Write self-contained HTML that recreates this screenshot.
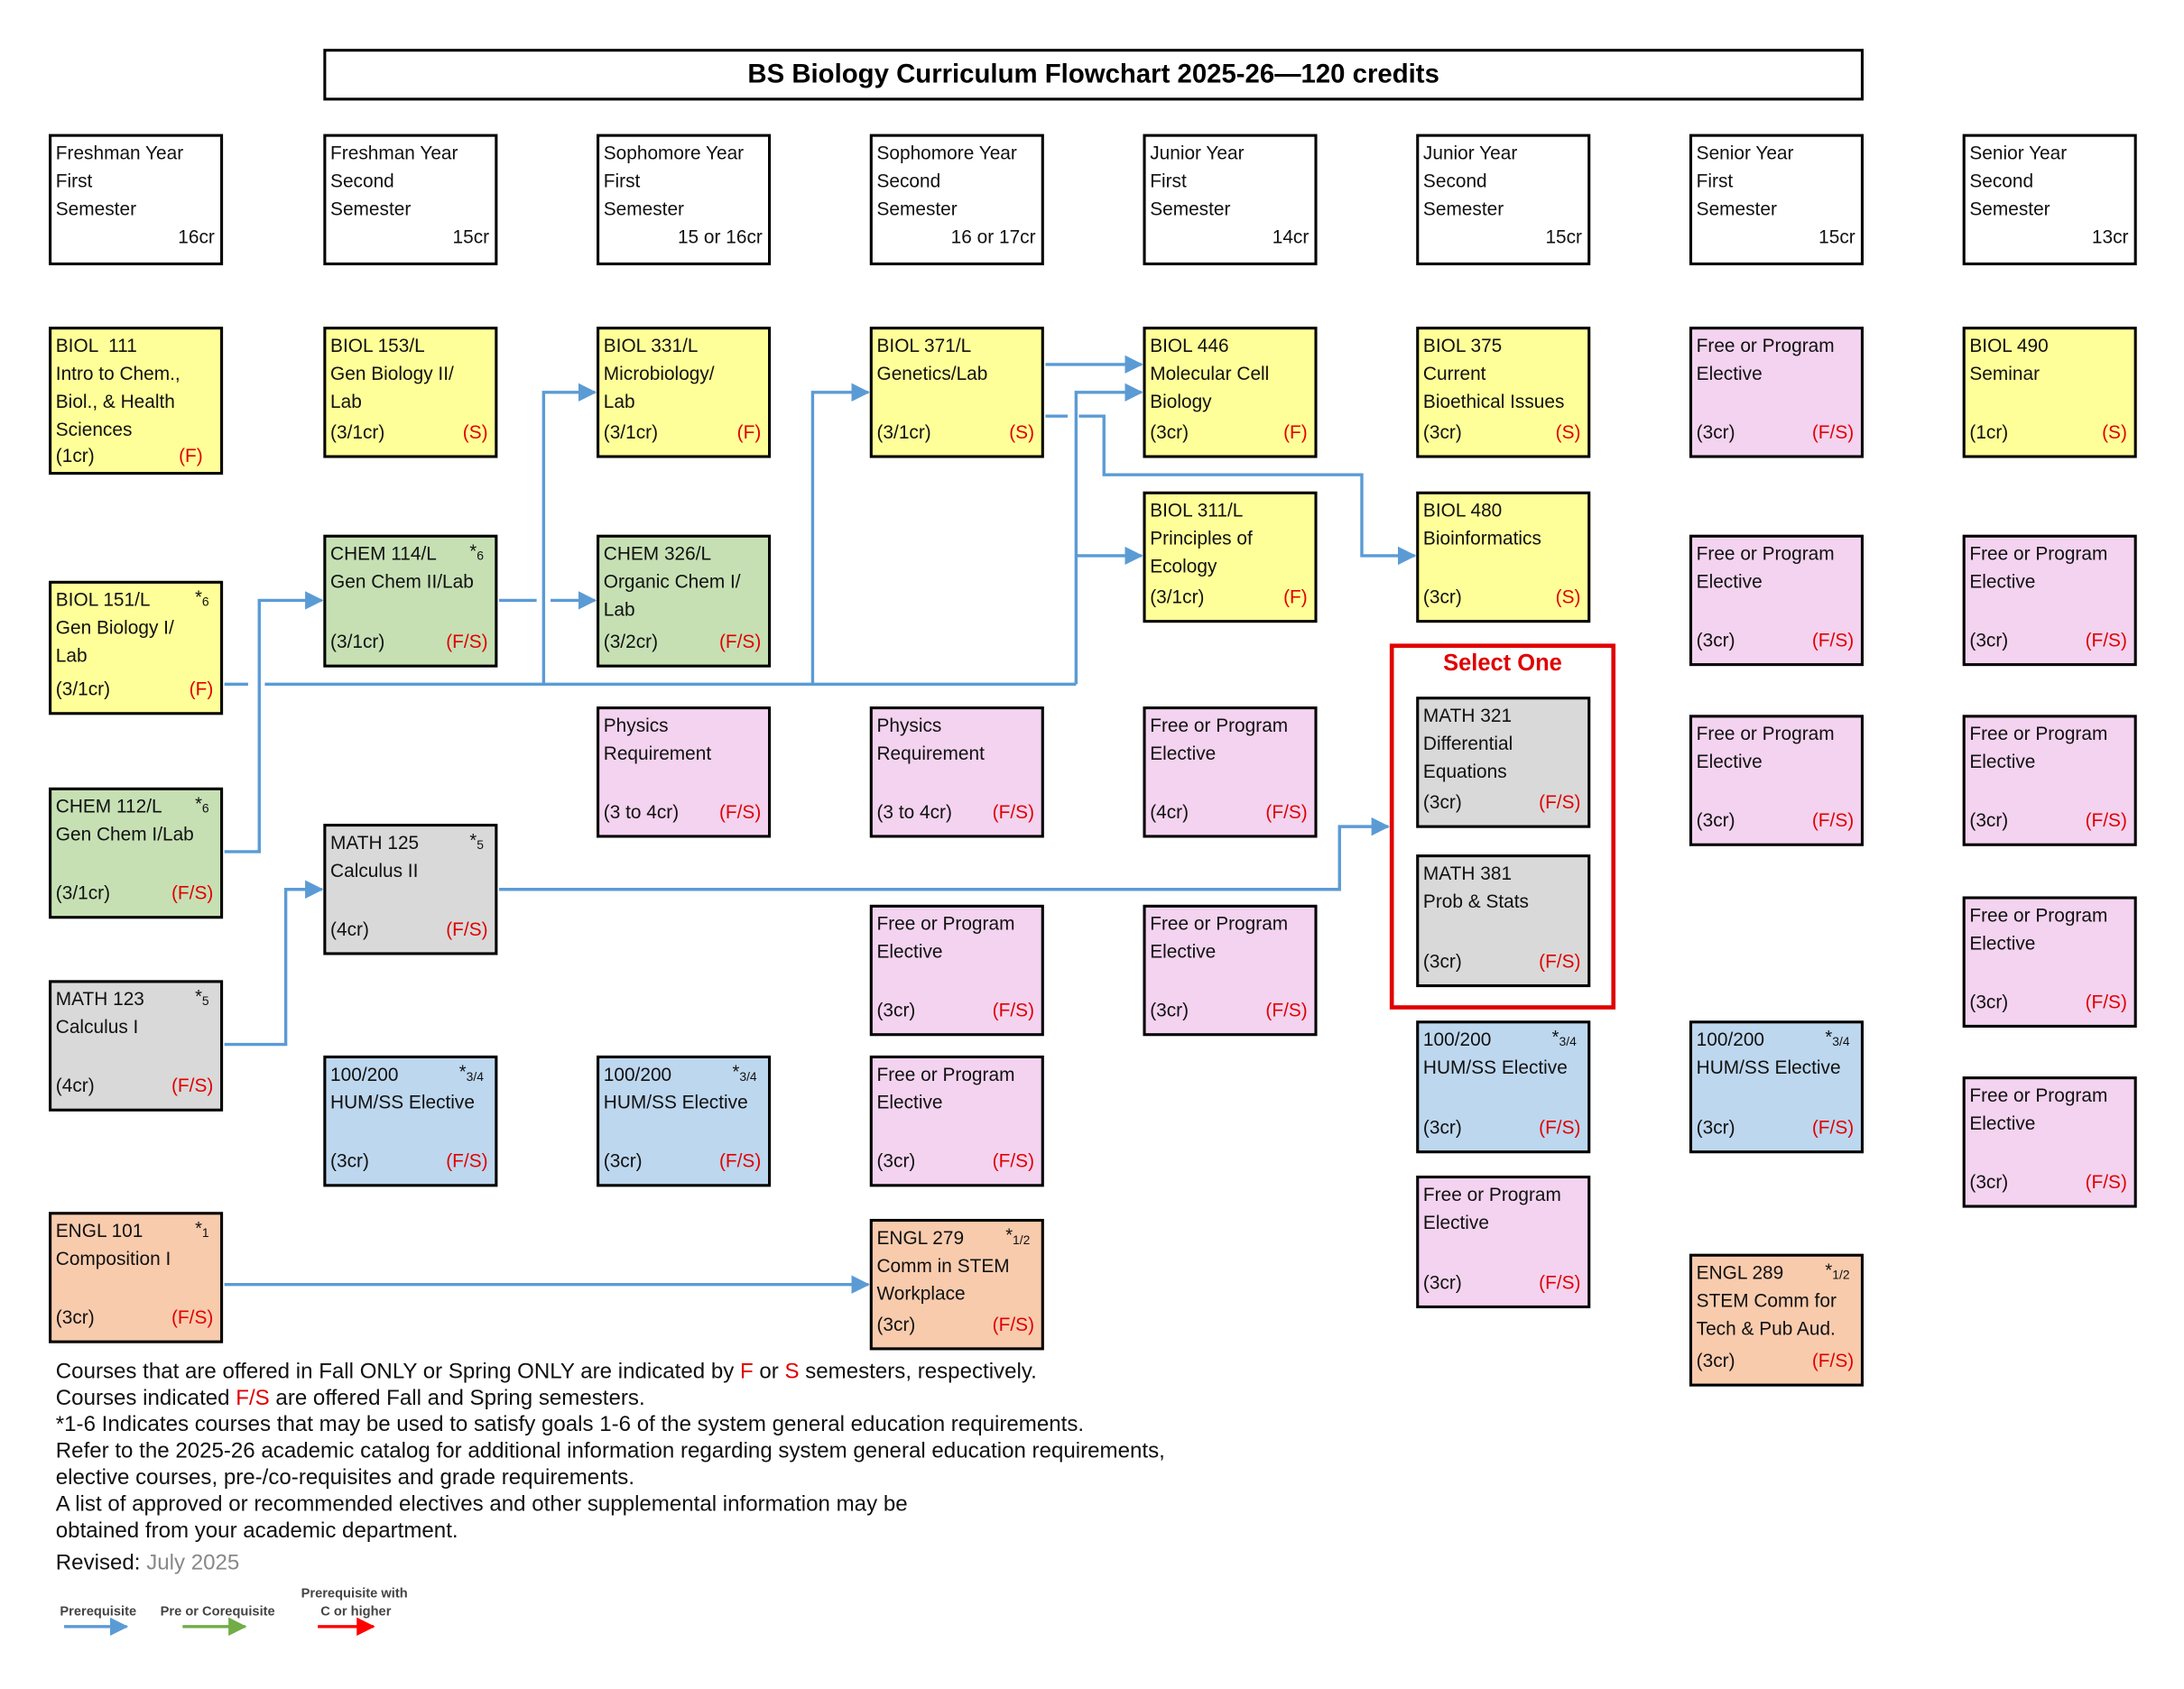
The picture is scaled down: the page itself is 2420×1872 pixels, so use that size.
<!DOCTYPE html>
<html><head><meta charset="utf-8"><style>
*{margin:0;padding:0;box-sizing:border-box}
body{width:2420px;height:1870px;background:#fff;overflow:hidden}
#w{position:absolute;left:0;top:0;width:1570px;height:1210px;transform:scale(1.5445,1.5475);transform-origin:0 0;font-family:"Liberation Sans",sans-serif}
.b{position:absolute;width:125px;border:2px solid #000;font-size:13.5px;color:#111}
.t{padding:2px 3px;line-height:20px;white-space:nowrap}
.c{position:absolute;left:3px;right:5px;bottom:6px;line-height:20px;display:flex;justify-content:space-between}
.r{color:#e00000}
.s{position:absolute;right:8px;top:2px;font-size:13px}
.s sub{font-size:9px;vertical-align:-2px}
.y{background:#ffff99}.g{background:#c6e0b4}.k{background:#d9d9d9}.p{background:#f3d3ef}.u{background:#bdd7ee}.o{background:#f8cbad}.h{background:#fff;height:94px;top:96px}
.hc{position:absolute;right:4px;bottom:8px;line-height:20px}
svg{position:absolute;left:0;top:0}
.f{position:absolute;left:40px;font-size:15.6px;line-height:19px;color:#111}
</style></head><body><div id="w">
<div style="position:absolute;left:232px;top:35px;width:1105px;height:37px;border:2px solid #000;text-align:center;font-weight:bold;font-size:19px;line-height:33px">BS Biology Curriculum Flowchart 2025-26—120 credits</div>

<div class="b h" style="left:35px"><div class="t">Freshman Year<br>First<br>Semester</div><div class="hc">16cr</div></div>
<div class="b h" style="left:232px"><div class="t">Freshman Year<br>Second<br>Semester</div><div class="hc">15cr</div></div>
<div class="b h" style="left:428px"><div class="t">Sophomore Year<br>First<br>Semester</div><div class="hc">15 or 16cr</div></div>
<div class="b h" style="left:624px"><div class="t">Sophomore Year<br>Second<br>Semester</div><div class="hc">16 or 17cr</div></div>
<div class="b h" style="left:820px"><div class="t">Junior Year<br>First<br>Semester</div><div class="hc">14cr</div></div>
<div class="b h" style="left:1016px"><div class="t">Junior Year<br>Second<br>Semester</div><div class="hc">15cr</div></div>
<div class="b h" style="left:1212px"><div class="t">Senior Year<br>First<br>Semester</div><div class="hc">15cr</div></div>
<div class="b h" style="left:1408px"><div class="t">Senior Year<br>Second<br>Semester</div><div class="hc">13cr</div></div>

<!-- col1 -->
<div class="b y" style="left:35px;top:234px;height:106px"><div class="t">BIOL &nbsp;111<br>Intro to Chem.,<br>Biol., &amp; Health<br>Sciences</div><div class="c" style="bottom:1px"><span>(1cr)</span><span class="r">(F)&nbsp;&nbsp;</span></div></div>
<div class="b y" style="left:35px;top:416px;height:96px"><div class="t">BIOL 151/L<br>Gen Biology I/<br>Lab</div><span class="s">*<sub>6</sub></span><div class="c"><span>(3/1cr)</span><span class="r">(F)</span></div></div>
<div class="b g" style="left:35px;top:564px;height:94px"><div class="t">CHEM 112/L<br>Gen Chem I/Lab</div><span class="s">*<sub>6</sub></span><div class="c"><span>(3/1cr)</span><span class="r">(F/S)</span></div></div>
<div class="b k" style="left:35px;top:702px;height:94px"><div class="t">MATH 123<br>Calculus I</div><span class="s">*<sub>5</sub></span><div class="c"><span>(4cr)</span><span class="r">(F/S)</span></div></div>
<div class="b o" style="left:35px;top:868px;height:94px"><div class="t">ENGL 101<br>Composition I</div><span class="s">*<sub>1</sub></span><div class="c"><span>(3cr)</span><span class="r">(F/S)</span></div></div>
<!-- col2 -->
<div class="b y" style="left:232px;top:234px;height:94px"><div class="t">BIOL 153/L<br>Gen Biology II/<br>Lab</div><div class="c"><span>(3/1cr)</span><span class="r">(S)</span></div></div>
<div class="b g" style="left:232px;top:383px;height:95px"><div class="t">CHEM 114/L<br>Gen Chem II/Lab</div><span class="s">*<sub>6</sub></span><div class="c"><span>(3/1cr)</span><span class="r">(F/S)</span></div></div>
<div class="b k" style="left:232px;top:590px;height:94px"><div class="t">MATH 125<br>Calculus II</div><span class="s">*<sub>5</sub></span><div class="c"><span>(4cr)</span><span class="r">(F/S)</span></div></div>
<div class="b u" style="left:232px;top:756px;height:94px"><div class="t">100/200<br>HUM/SS Elective</div><span class="s">*<sub>3/4</sub></span><div class="c"><span>(3cr)</span><span class="r">(F/S)</span></div></div>
<!-- col3 -->
<div class="b y" style="left:428px;top:234px;height:94px"><div class="t">BIOL 331/L<br>Microbiology/<br>Lab</div><div class="c"><span>(3/1cr)</span><span class="r">(F)</span></div></div>
<div class="b g" style="left:428px;top:383px;height:95px"><div class="t">CHEM 326/L<br>Organic Chem I/<br>Lab</div><div class="c"><span>(3/2cr)</span><span class="r">(F/S)</span></div></div>
<div class="b p" style="left:428px;top:506px;height:94px"><div class="t">Physics<br>Requirement</div><div class="c"><span>(3 to 4cr)</span><span class="r">(F/S)</span></div></div>
<div class="b u" style="left:428px;top:756px;height:94px"><div class="t">100/200<br>HUM/SS Elective</div><span class="s">*<sub>3/4</sub></span><div class="c"><span>(3cr)</span><span class="r">(F/S)</span></div></div>
<!-- col4 -->
<div class="b y" style="left:624px;top:234px;height:94px"><div class="t">BIOL 371/L<br>Genetics/Lab</div><div class="c"><span>(3/1cr)</span><span class="r">(S)</span></div></div>
<div class="b p" style="left:624px;top:506px;height:94px"><div class="t">Physics<br>Requirement</div><div class="c"><span>(3 to 4cr)</span><span class="r">(F/S)</span></div></div>
<div class="b p" style="left:624px;top:648px;height:94px"><div class="t">Free or Program<br>Elective</div><div class="c"><span>(3cr)</span><span class="r">(F/S)</span></div></div>
<div class="b p" style="left:624px;top:756px;height:94px"><div class="t">Free or Program<br>Elective</div><div class="c"><span>(3cr)</span><span class="r">(F/S)</span></div></div>
<div class="b o" style="left:624px;top:873px;height:94px"><div class="t">ENGL 279<br>Comm in STEM<br>Workplace</div><span class="s">*<sub>1/2</sub></span><div class="c"><span>(3cr)</span><span class="r">(F/S)</span></div></div>
<!-- col5 -->
<div class="b y" style="left:820px;top:234px;height:94px"><div class="t">BIOL 446<br>Molecular Cell<br>Biology</div><div class="c"><span>(3cr)</span><span class="r">(F)</span></div></div>
<div class="b y" style="left:820px;top:352px;height:94px"><div class="t">BIOL 311/L<br>Principles of<br>Ecology</div><div class="c"><span>(3/1cr)</span><span class="r">(F)</span></div></div>
<div class="b p" style="left:820px;top:506px;height:94px"><div class="t">Free or Program<br>Elective</div><div class="c"><span>(4cr)</span><span class="r">(F/S)</span></div></div>
<div class="b p" style="left:820px;top:648px;height:94px"><div class="t">Free or Program<br>Elective</div><div class="c"><span>(3cr)</span><span class="r">(F/S)</span></div></div>
<!-- col6 -->
<div class="b y" style="left:1016px;top:234px;height:94px"><div class="t">BIOL 375<br>Current<br>Bioethical Issues</div><div class="c"><span>(3cr)</span><span class="r">(S)</span></div></div>
<div class="b y" style="left:1016px;top:352px;height:94px"><div class="t">BIOL 480<br>Bioinformatics</div><div class="c"><span>(3cr)</span><span class="r">(S)</span></div></div>
<div style="position:absolute;left:997px;top:461px;width:162px;height:262px;border:3px solid #e00000"></div>
<div style="position:absolute;left:997px;top:466px;width:162px;text-align:center;color:#e00000;font-weight:bold;font-size:16.5px">Select One</div>
<div class="b k" style="left:1016px;top:499px;height:94px"><div class="t">MATH 321<br>Differential<br>Equations</div><div class="c"><span>(3cr)</span><span class="r">(F/S)</span></div></div>
<div class="b k" style="left:1016px;top:612px;height:95px"><div class="t">MATH 381<br>Prob &amp; Stats</div><div class="c"><span>(3cr)</span><span class="r">(F/S)</span></div></div>
<div class="b u" style="left:1016px;top:731px;height:95px"><div class="t">100/200<br>HUM/SS Elective</div><span class="s">*<sub>3/4</sub></span><div class="c"><span>(3cr)</span><span class="r">(F/S)</span></div></div>
<div class="b p" style="left:1016px;top:842px;height:95px"><div class="t">Free or Program<br>Elective</div><div class="c"><span>(3cr)</span><span class="r">(F/S)</span></div></div>
<!-- col7 -->
<div class="b p" style="left:1212px;top:234px;height:94px"><div class="t">Free or Program<br>Elective</div><div class="c"><span>(3cr)</span><span class="r">(F/S)</span></div></div>
<div class="b p" style="left:1212px;top:383px;height:94px"><div class="t">Free or Program<br>Elective</div><div class="c"><span>(3cr)</span><span class="r">(F/S)</span></div></div>
<div class="b p" style="left:1212px;top:512px;height:94px"><div class="t">Free or Program<br>Elective</div><div class="c"><span>(3cr)</span><span class="r">(F/S)</span></div></div>
<div class="b u" style="left:1212px;top:731px;height:95px"><div class="t">100/200<br>HUM/SS Elective</div><span class="s">*<sub>3/4</sub></span><div class="c"><span>(3cr)</span><span class="r">(F/S)</span></div></div>
<div class="b o" style="left:1212px;top:898px;height:95px"><div class="t">ENGL 289<br>STEM Comm for<br>Tech &amp; Pub Aud.</div><span class="s">*<sub>1/2</sub></span><div class="c"><span>(3cr)</span><span class="r">(F/S)</span></div></div>
<!-- col8 -->
<div class="b y" style="left:1408px;top:234px;height:94px"><div class="t">BIOL 490<br>Seminar</div><div class="c"><span>(1cr)</span><span class="r">(S)</span></div></div>
<div class="b p" style="left:1408px;top:383px;height:94px"><div class="t">Free or Program<br>Elective</div><div class="c"><span>(3cr)</span><span class="r">(F/S)</span></div></div>
<div class="b p" style="left:1408px;top:512px;height:94px"><div class="t">Free or Program<br>Elective</div><div class="c"><span>(3cr)</span><span class="r">(F/S)</span></div></div>
<div class="b p" style="left:1408px;top:642px;height:94px"><div class="t">Free or Program<br>Elective</div><div class="c"><span>(3cr)</span><span class="r">(F/S)</span></div></div>
<div class="b p" style="left:1408px;top:771px;height:94px"><div class="t">Free or Program<br>Elective</div><div class="c"><span>(3cr)</span><span class="r">(F/S)</span></div></div>

<svg width="1570" height="1210" viewBox="0 0 1570 1210">
<defs>
<marker id="a" markerWidth="6" markerHeight="6" refX="5.5" refY="3" orient="auto" markerUnits="strokeWidth"><path d="M0,0 L6,3 L0,6 z" fill="#5b9bd5"/></marker>
<marker id="ag" markerWidth="6" markerHeight="6" refX="5.5" refY="3" orient="auto" markerUnits="strokeWidth"><path d="M0,0 L6,3 L0,6 z" fill="#70ad47"/></marker>
<marker id="ar" markerWidth="6" markerHeight="6" refX="5.5" refY="3" orient="auto" markerUnits="strokeWidth"><path d="M0,0 L6,3 L0,6 z" fill="#ff0000"/></marker>
</defs>
<g fill="none" stroke="#5b9bd5" stroke-width="2.2">
<path d="M161,490 H178 M190,490 H772"/>
<path d="M390,490 V281 H427" marker-end="url(#a)"/>
<path d="M583,490 V281 H623" marker-end="url(#a)"/>
<path d="M772,490 V281 H819" marker-end="url(#a)"/>
<path d="M772,398 H819" marker-end="url(#a)"/>
<path d="M750,261 H819" marker-end="url(#a)"/>
<path d="M750,298 H766 M774,298 H792 V340 H977 V398 H1015" marker-end="url(#a)"/>
<path d="M161,610 H186 V430 H231" marker-end="url(#a)"/>
<path d="M358,430 H385 M395,430 H427" marker-end="url(#a)"/>
<path d="M161,748 H205 V637 H231" marker-end="url(#a)"/>
<path d="M358,637 H961 V592 H996" marker-end="url(#a)"/>
<path d="M161,920 H623" marker-end="url(#a)"/>
<path d="M46,1165 H91" marker-end="url(#a)"/>
<path d="M131,1165 H176" stroke="#70ad47" marker-end="url(#ag)"/>
<path d="M228,1165 H268" stroke="#ff0000" marker-end="url(#ar)"/>
</g>
<g font-family="Liberation Sans, sans-serif" font-size="9.5" font-weight="bold" fill="#444">
<text x="43" y="1157">Prerequisite</text>
<text x="115" y="1157">Pre or Corequisite</text>
<text x="216" y="1144">Prerequisite with</text>
<text x="230" y="1157">C or higher</text>
</g>
</svg>

<div class="f" style="top:973px">Courses that are offered in Fall ONLY or Spring ONLY are indicated by <span class="r">F</span> or <span class="r">S</span> semesters, respectively.<br>Courses indicated <span class="r">F/S</span> are offered Fall and Spring semesters.<br>*1-6 Indicates courses that may be used to satisfy goals 1-6 of the system general education requirements.<br>Refer to the 2025-26 academic catalog for additional information regarding system general education requirements,<br>elective courses, pre-/co-requisites and grade requirements.<br>A list of approved or recommended electives and other supplemental information may be<br>obtained from your academic department.</div>
<div class="f" style="top:1110px">Revised: <span style="color:#888">July 2025</span></div>
</div></body></html>
